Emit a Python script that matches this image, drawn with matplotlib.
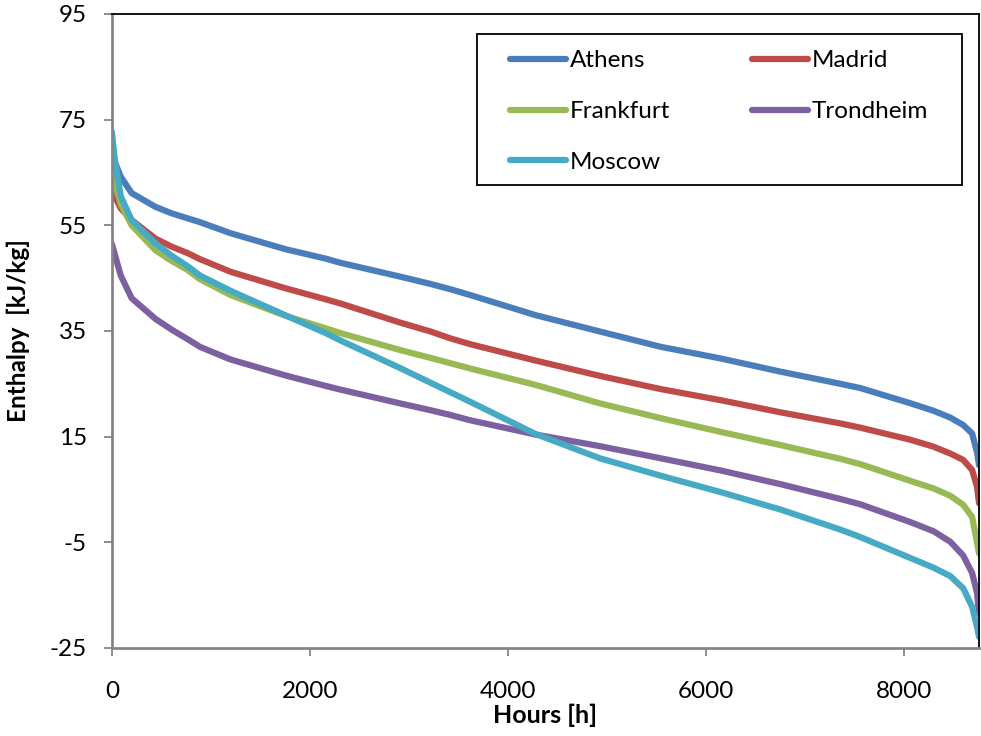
import matplotlib
matplotlib.use("Agg")
import matplotlib.pyplot as plt
from matplotlib.patches import Rectangle

hours = [0, 30, 90, 200, 440, 600, 770, 890, 1200, 1750, 2160, 2310, 2910, 3220, 3420,
         3620, 4280, 4930, 5545, 6150, 6755, 7360, 7560, 8070, 8300, 8470, 8600, 8690, 8740, 8760]

athens = [71.0, 67.0, 64.2, 61.1, 58.5, 57.3, 56.3, 55.6, 53.5, 50.5, 48.7, 47.9, 45.3, 43.9, 42.9,
          41.8, 38.0, 34.9, 32.0, 29.8, 27.3, 25.0, 24.2, 21.3, 19.9, 18.6, 17.2, 15.6, 12.0, 9.6]
madrid = [63.0, 60.5, 58.2, 56.0, 52.5, 51.0, 49.7, 48.6, 46.2, 43.1, 41.0, 40.2, 36.6, 34.9, 33.6,
          32.5, 29.4, 26.5, 24.0, 21.9, 19.6, 17.5, 16.7, 14.4, 13.1, 11.8, 10.6, 8.7, 5.5, 2.4]
frankfurt = [67.0, 63.0, 59.0, 55.0, 50.3, 48.3, 46.5, 44.8, 41.8, 37.9, 35.5, 34.6, 31.4, 29.9, 28.9,
             27.9, 24.8, 21.3, 18.5, 15.9, 13.4, 10.8, 9.8, 6.6, 5.2, 3.8, 2.1, -0.2, -5.1, -7.1]
trondheim = [51.5, 49.5, 45.5, 41.2, 37.3, 35.3, 33.4, 32.0, 29.6, 26.6, 24.6, 23.9, 21.3, 20.0, 19.1,
             18.1, 15.4, 13.2, 10.9, 8.6, 6.0, 3.2, 2.2, -1.2, -2.9, -4.9, -7.5, -10.8, -14.6, -18.4]
moscow = [72.7, 67.4, 60.5, 56.0, 51.6, 49.3, 47.2, 45.5, 42.6, 38.0, 34.6, 33.2, 28.0, 25.2, 23.4,
          21.6, 15.5, 10.9, 7.6, 4.5, 1.2, -2.6, -4.0, -8.0, -9.8, -11.4, -13.7, -17.2, -21.0, -22.9]

series = [("Athens", athens, "#4a7ebb"),
          ("Madrid", madrid, "#be4b48"),
          ("Frankfurt", frankfurt, "#98b954"),
          ("Trondheim", trondheim, "#7d60a0"),
          ("Moscow", moscow, "#46aac5")]

x_ticks = [0, 2000, 4000, 6000, 8000]
y_ticks = [-25, -5, 15, 35, 55, 75, 95]

plt.rcParams['font.family'] = ['Lato', 'DejaVu Sans']

fig = plt.figure(figsize=(9.81, 7.36), dpi=100)
ax = fig.add_axes([0.114, 0.1196, 0.884, 0.8614])

lines = {}
for name, vals, col in series:
    ln, = ax.plot(hours, vals, color=col, lw=4.5, label=name, solid_capstyle='round')
    lines[name] = ln

ax.set_xlim(0, 8760)
ax.set_ylim(-25, 95)
ax.set_xticks(x_ticks)
ax.set_yticks(y_ticks)
ax.set_yticklabels([str(v) for v in y_ticks])
ax.tick_params(axis='both', direction='out', length=6, width=1.3, color='#868686',
               labelsize=17.5)
ax.tick_params(axis='y', pad=12)
ax.tick_params(axis='x', pad=18)

for s in ['left', 'bottom']:
    ax.spines[s].set_color('#868686')
    ax.spines[s].set_linewidth(2)
for s in ['top', 'right']:
    ax.spines[s].set_color('black')
    ax.spines[s].set_linewidth(1.3)

ax.set_xlabel("Hours [h]", fontsize=18, fontweight='bold', labelpad=1)
ax.set_ylabel("Enthalpy  [kJ/kg]", fontsize=17.5, fontweight='bold', labelpad=14)

# legend frame
ax.add_patch(Rectangle((0.421, 0.7303), 0.559, 0.2382, transform=ax.transAxes,
                       fill=True, facecolor='white', edgecolor='black', lw=1.3, zorder=4))

order = ["Athens", "Frankfurt", "Moscow", "Madrid", "Trondheim"]
leg = ax.legend([lines[n] for n in order], order, loc='upper left',
                bbox_to_anchor=(0.459, 0.9425, 0.482, 0.0), mode='expand',
                ncol=2, fontsize=17.5, frameon=False,
                handlelength=2.3, handletextpad=0.15, borderpad=0, labelspacing=1.22,
                borderaxespad=0)
leg.set_zorder(5)
for h in leg.get_lines():
    h.set_linewidth(4.5)

fig.savefig("out.png", dpi=100)
